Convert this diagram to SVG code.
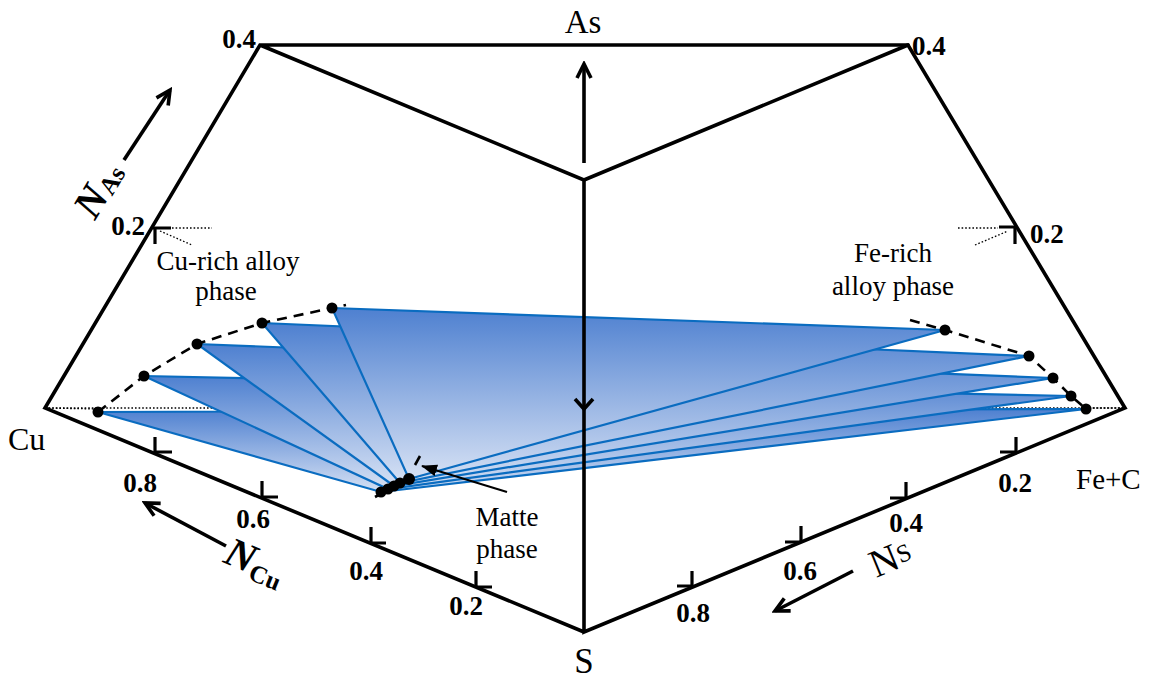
<svg xmlns="http://www.w3.org/2000/svg" width="1153" height="683" viewBox="0 0 1153 683">
<style>
.frame{stroke:#000;stroke-width:3.6;fill:none;stroke-linecap:round;stroke-linejoin:miter}
.tick{stroke:#000;stroke-width:3.2;fill:none}
.dot{stroke:#000;stroke-width:1.3;fill:none;stroke-dasharray:1.6 2}
.dash{stroke:#000;stroke-width:2.6;fill:none;stroke-dasharray:10 7}
.tri{fill:url(#bg);stroke:#0a6cc0;stroke-width:2.2;stroke-linejoin:miter}
.pt{fill:#000}
.num{font-family:"Liberation Serif",serif;font-weight:bold;fill:#000}
.lbl{font-family:"Liberation Serif",serif;fill:#000}
.arr{stroke:#000;stroke-width:3.6;fill:none}
</style>
<defs>
<linearGradient id="bg" x1="0" y1="0" x2="0" y2="1">
<stop offset="0" stop-color="#4e80d0"/>
<stop offset="1" stop-color="#d6e1f4"/>
</linearGradient>
<marker id="chev" markerUnits="userSpaceOnUse" viewBox="0 0 20 20" refX="17" refY="10" markerWidth="20" markerHeight="20" orient="auto">
<path d="M3,3 L17,10 L3,17" stroke="#000" stroke-width="3.6" fill="none"/>
</marker>
<marker id="tri" markerUnits="userSpaceOnUse" viewBox="0 0 16 12" refX="15" refY="6" markerWidth="16" markerHeight="12" orient="auto">
<path d="M0,0 L16,6 L0,12 z" fill="#000"/>
</marker>
</defs>

<g id="binary-dotted">
<line class="dot" x1="45" y1="408" x2="1125" y2="408"/>
</g>

<g id="tie-triangles">
<polygon id="t1" class="tri" points="98,412 1086,409 381,492"/>
<polygon id="t2" class="tri" points="144,376 1071,396 388,489"/>
<polygon id="t3" class="tri" points="197,344 1053,378 394,486"/>
<polygon id="t4" class="tri" points="262,323 1029,356 400,483"/>
<polygon id="t5" class="tri" points="332,308 945,330 409,479"/>
</g>

<g id="dotted-visible">
<line class="dot" x1="45" y1="408" x2="98" y2="409"/>
<line class="dot" x1="1086" y1="408" x2="1125" y2="408"/>
<line class="dot" x1="172" y1="228" x2="212" y2="228"/>
<line class="dot" x1="160" y1="231" x2="192" y2="245"/>
<line class="dot" x1="958" y1="228" x2="998" y2="228"/>
<line class="dot" x1="975" y1="245" x2="1008" y2="231"/>
</g>

<g id="connectors">
<polyline class="frame" points="584,632 45,408 260,45 908,45 1125,408 584,632 584,180 260,45"/>
<line class="frame" x1="908" y1="45" x2="584" y2="180"/>
<line class="arr" x1="584" y1="163" x2="584" y2="64" marker-end="url(#chev)"/>
<polyline class="arr" points="575,399 584,409 593,399"/>
<line class="arr" x1="124" y1="160" x2="170" y2="90" marker-end="url(#chev)"/>
<line class="arr" x1="226" y1="546" x2="145" y2="503" marker-end="url(#chev)"/>
<line class="arr" x1="853" y1="571" x2="775" y2="611" marker-end="url(#chev)"/>
<line x1="507" y1="492" x2="422" y2="466" stroke="#000" stroke-width="2" marker-end="url(#tri)"/>
</g>

<g id="ticks">
<path class="tick" d="M153,228 H171 M155,228 V244"/>
<path class="tick" d="M999,227 H1015 M1015,227 V244"/>
<path class="tick" d="M155,437 V453 M155,452 H172"/>
<path class="tick" d="M262,481 V498 M262,497 H278"/>
<path class="tick" d="M371,527 V543 M371,543 H386"/>
<path class="tick" d="M476,571 V587 M476,587 H492"/>
<path class="tick" d="M692,571 V587 M692,586 H677"/>
<path class="tick" d="M801,526 V542 M801,542 H785"/>
<path class="tick" d="M906,482 V498 M906,498 H890"/>
<path class="tick" d="M1016,437 V453 M1016,452 H1000"/>
</g>

<g id="cu-rich-curve">
<polyline class="dash" points="98,412 144,376 197,344 262,323 332,308 346,305"/>
<circle class="pt" cx="98" cy="412" r="5.5"/>
<circle class="pt" cx="144" cy="376" r="5.5"/>
<circle class="pt" cx="197" cy="344" r="5.5"/>
<circle class="pt" cx="262" cy="323" r="5.5"/>
<circle class="pt" cx="332" cy="308" r="5.5"/>
</g>

<g id="fe-rich-curve">
<polyline class="dash" points="910,320 945,330 1029,356 1053,378 1071,396 1086,409"/>
<circle class="pt" cx="945" cy="330" r="5.5"/>
<circle class="pt" cx="1029" cy="356" r="5.5"/>
<circle class="pt" cx="1053" cy="378" r="5.5"/>
<circle class="pt" cx="1071" cy="396" r="5.5"/>
<circle class="pt" cx="1086" cy="409" r="5.5"/>
</g>

<g id="matte-curve">
<line x1="375" y1="497" x2="409" y2="479" stroke="#000" stroke-width="2.6"/>
<line x1="415" y1="465" x2="420" y2="456" stroke="#000" stroke-width="2.6"/>
<circle class="pt" cx="381" cy="492" r="5.5"/>
<circle class="pt" cx="388" cy="489" r="5.5"/>
<circle class="pt" cx="394" cy="486" r="5.5"/>
<circle class="pt" cx="400" cy="483" r="5.5"/>
<circle class="pt" cx="409" cy="479" r="6"/>
</g>

<g id="corner-labels">
<text class="lbl" x="583" y="33" font-size="33" text-anchor="middle">As</text>
<text class="lbl" x="584" y="673" font-size="35" text-anchor="middle">S</text>
<text class="lbl" x="8" y="450" font-size="32">Cu</text>
<text class="lbl" x="1076" y="489" font-size="29">Fe+C</text>
</g>

<g id="phase-labels">
<text class="lbl" x="228" y="270" font-size="27" text-anchor="middle">Cu-rich alloy</text>
<text class="lbl" x="226" y="300" font-size="27" text-anchor="middle">phase</text>
<text class="lbl" x="893" y="262" font-size="27" text-anchor="middle">Fe-rich</text>
<text class="lbl" x="893" y="295" font-size="27" text-anchor="middle">alloy phase</text>
<text class="lbl" x="507" y="526" font-size="27" text-anchor="middle">Matte</text>
<text class="lbl" x="507" y="558" font-size="27" text-anchor="middle">phase</text>
</g>

<g id="axis-numbers" font-size="27">
<text class="num" x="256" y="48" text-anchor="end">0.4</text>
<text class="num" x="912" y="55">0.4</text>
<text class="num" x="145" y="235" text-anchor="end">0.2</text>
<text class="num" x="1030" y="243">0.2</text>
<text class="num" x="140" y="492" text-anchor="middle">0.8</text>
<text class="num" x="253" y="528" text-anchor="middle">0.6</text>
<text class="num" x="366" y="580" text-anchor="middle">0.4</text>
<text class="num" x="466" y="615" text-anchor="middle">0.2</text>
<text class="num" x="693" y="622" text-anchor="middle">0.8</text>
<text class="num" x="800" y="580" text-anchor="middle">0.6</text>
<text class="num" x="906" y="532" text-anchor="middle">0.4</text>
<text class="num" x="1015" y="492" text-anchor="middle">0.2</text>
</g>

<g id="axis-titles">
<text transform="translate(95,221) rotate(-59)" font-family="Liberation Serif,serif" font-weight="bold" font-style="italic" font-size="41">N<tspan font-size="25" font-style="normal" dy="2">As</tspan></text>
<text transform="translate(222,562) rotate(22.5)" font-family="Liberation Serif,serif" font-weight="bold" font-style="italic" font-size="41">N<tspan font-size="25" font-style="normal" dy="6">Cu</tspan></text>
<text transform="translate(876,578) rotate(-22.5)" font-family="Liberation Serif,serif" font-size="39">N<tspan font-size="25" dy="-4">S</tspan></text>
</g>
</svg>
